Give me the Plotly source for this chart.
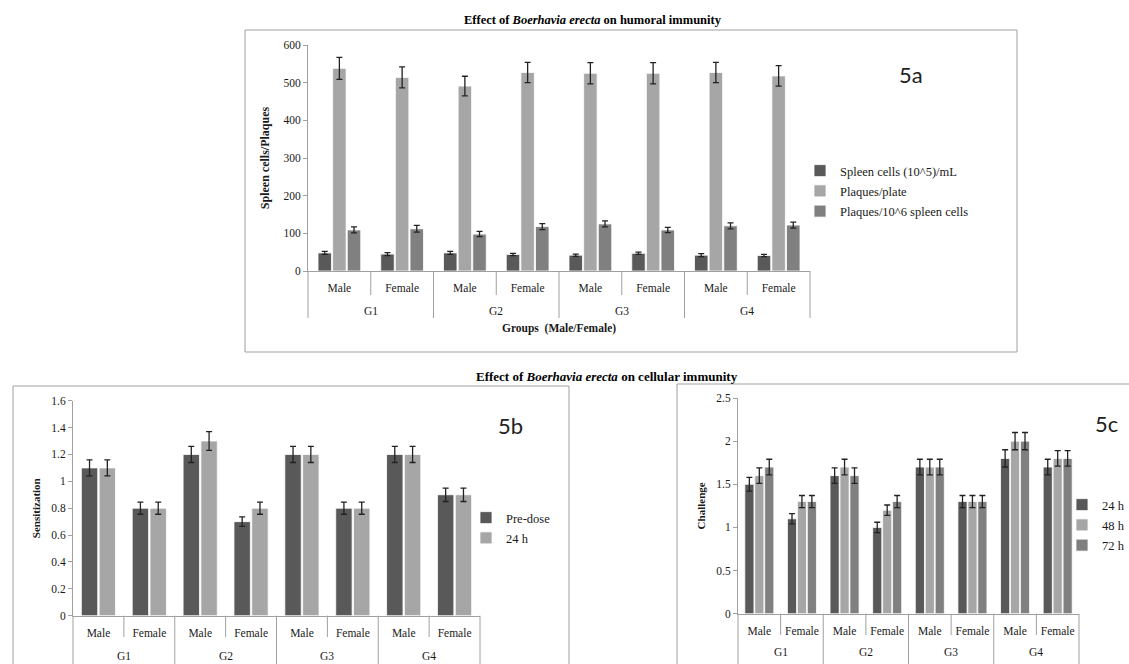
import plotly.graph_objects as go

# ---------------- data ----------------
groups = ["G1", "G1", "G2", "G2", "G3", "G3", "G4", "G4"]
sexes = ["Male", "Female", "Male", "Female", "Male", "Female", "Male", "Female"]

# 5a humoral immunity
spleen_cells = [48, 45, 48, 44, 42, 47, 42, 41]
spleen_cells_err = [4, 4, 4, 3, 3, 3, 4, 3]
plaques_plate = [538, 514, 491, 527, 525, 525, 527, 518]
plaques_plate_err = [29, 28, 26, 27, 28, 28, 27, 27]
plaques_per_cells = [109, 112, 98, 118, 125, 109, 120, 122]
plaques_per_cells_err = [8, 9, 7, 8, 8, 7, 8, 8]

# 5b sensitization
pre_dose = [1.1, 0.8, 1.2, 0.7, 1.2, 0.8, 1.2, 0.9]
pre_dose_err = [0.06, 0.045, 0.06, 0.035, 0.06, 0.045, 0.06, 0.05]
sens_24h = [1.1, 0.8, 1.3, 0.8, 1.2, 0.8, 1.2, 0.9]
sens_24h_err = [0.06, 0.045, 0.07, 0.045, 0.06, 0.045, 0.06, 0.05]

# 5c challenge
chal_24h = [1.5, 1.1, 1.6, 1.0, 1.7, 1.3, 1.8, 1.7]
chal_24h_err = [0.08, 0.06, 0.09, 0.06, 0.09, 0.07, 0.1, 0.09]
chal_48h = [1.6, 1.3, 1.7, 1.2, 1.7, 1.3, 2.0, 1.8]
chal_48h_err = [0.09, 0.07, 0.09, 0.06, 0.09, 0.07, 0.1, 0.09]
chal_72h = [1.7, 1.3, 1.6, 1.3, 1.7, 1.3, 2.0, 1.8]
chal_72h_err = [0.09, 0.07, 0.09, 0.07, 0.09, 0.07, 0.1, 0.09]

# category keys (one per bar slot), displayed as Male/Female
cats = [g + " " + s for g, s in zip(groups, sexes)]

# ---------------- styles ----------------
W, H = 1129, 664
DARK, LIGHT, MED = "#595959", "#a6a6a6", "#808080"
AXC = "#a0a0a0"
SERIF = "Liberation Serif"
SANS = "Lato"
TXT = "#1a1a1a"


def px_x(p):
    return p / W


def px_y(p):
    return (H - p) / H


fig = go.Figure()


def add_bar(name, y, err, color, xa, ya, legend):
    fig.add_trace(go.Bar(
        x=cats, y=y, name=name, legend=legend, legendgroup=name,
        xaxis=xa, yaxis=ya,
        marker=dict(color=color, line=dict(color="white", width=0.8)),
        error_y=dict(type="data", array=err, color="#222222", thickness=1.3, width=3),
    ))


add_bar("Spleen cells (10^5)/mL", spleen_cells, spleen_cells_err, DARK, "x", "y", "legend")
add_bar("Plaques/plate", plaques_plate, plaques_plate_err, LIGHT, "x", "y", "legend")
add_bar("Plaques/10^6 spleen cells", plaques_per_cells, plaques_per_cells_err, MED, "x", "y", "legend")

add_bar("Pre-dose", pre_dose, pre_dose_err, DARK, "x2", "y2", "legend2")
add_bar("24 h", sens_24h, sens_24h_err, LIGHT, "x2", "y2", "legend2")

add_bar("24 h ", chal_24h, chal_24h_err, DARK, "x3", "y3", "legend3")
add_bar("48 h", chal_48h, chal_48h_err, LIGHT, "x3", "y3", "legend3")
add_bar("72 h", chal_72h, chal_72h_err, MED, "x3", "y3", "legend3")

tickfont = dict(family=SERIF, size=11.5, color=TXT)


def xax(domain, anchor):
    return dict(domain=domain, anchor=anchor, type="category",
                categoryorder="array", categoryarray=cats,
                tickmode="array", tickvals=cats, ticktext=sexes,
                showline=True, linecolor=AXC, linewidth=1,
                ticks="outside", ticklen=6, tickcolor="rgba(0,0,0,0)",
                tickfont=tickfont, showgrid=False, zeroline=False)


def yax(domain, anchor, rng, dtick, title, tsize, standoff):
    return dict(domain=domain, anchor=anchor, range=rng, dtick=dtick,
                showline=True, linecolor=AXC, linewidth=1, ticks="outside",
                ticklen=4, tickcolor=AXC, tickfont=tickfont, showgrid=False,
                zeroline=False,
                title=dict(text="<b>" + title + "</b>",
                           font=dict(family=SERIF, size=tsize, color=TXT),
                           standoff=standoff))


fig.update_layout(
    width=W, height=H,
    margin=dict(l=0, r=0, t=0, b=0, autoexpand=False),
    paper_bgcolor="white", plot_bgcolor="white",
    barmode="group", bargap=0.3, bargroupgap=0.08,
    xaxis=dict(xax([px_x(308), px_x(810)], "y"),
               title=dict(text="<b>Groups  (Male/Female)</b>",
                          font=dict(family=SERIF, size=11.5, color=TXT), standoff=31)),
    yaxis=yax([px_y(271), px_y(45)], "x", [0, 600], 100, "Spleen cells/Plaques", 12, 11),
    xaxis2=xax([px_x(73), px_x(480)], "y2"),
    yaxis2=yax([px_y(615.7), px_y(400.7)], "x2", [0, 1.6], 0.2, "Sensitization", 11, 8),
    xaxis3=xax([px_x(738), px_x(1079)], "y3"),
    yaxis3=yax([px_y(613.7), px_y(398)], "x3", [0, 2.5], 0.5, "Challenge", 11, 8),
    legend=dict(x=px_x(800), y=px_y(191), xanchor="left", yanchor="middle",
                font=dict(family=SERIF, size=12.5, color=TXT), bgcolor="rgba(0,0,0,0)",
                tracegroupgap=1),
    legend2=dict(x=px_x(466), y=px_y(528), xanchor="left", yanchor="middle",
                 font=dict(family=SERIF, size=12.5, color=TXT), bgcolor="rgba(0,0,0,0)",
                 tracegroupgap=1),
    legend3=dict(x=px_x(1062), y=px_y(525), xanchor="left", yanchor="middle",
                 font=dict(family=SERIF, size=12.5, color=TXT), bgcolor="rgba(0,0,0,0)",
                 tracegroupgap=1),
    showlegend=True,
)

line_style = dict(color=AXC, width=1)

# panel borders
shapes = [
    dict(type="rect", xref="paper", yref="paper", x0=px_x(245), x1=px_x(1017),
         y0=px_y(352), y1=px_y(30), line=line_style),
    dict(type="rect", xref="paper", yref="paper", x0=px_x(13), x1=px_x(569),
         y0=px_y(700), y1=px_y(386), line=line_style),
    dict(type="rect", xref="paper", yref="paper", x0=px_x(677), x1=px_x(1200),
         y0=px_y(700), y1=px_y(384), line=line_style),
]
annotations = []

# category-axis dividers and group labels
# (axis, axis line px, inner divider end px, outer divider end px, group label px)
panels = [("x", 271, 295, 318, 311), ("x2", 615.7, 637, 700, 655.5),
          ("x3", 613.7, 635, 700, 652)]
for xa, y_ax, y_in, y_out, y_lab in panels:
    # edges of the category axis
    for xd in (0, 1):
        shapes.append(dict(type="line", xref=xa + " domain", yref="paper", x0=xd, x1=xd,
                           y0=px_y(y_ax), y1=px_y(y_out), line=line_style))
    # boundaries between neighbouring categories
    for i in range(1, len(cats)):
        end = y_out if groups[i] != groups[i - 1] else y_in
        shapes.append(dict(type="line", xref=xa, yref="paper", x0=i - 0.5, x1=i - 0.5,
                           y0=px_y(y_ax), y1=px_y(end), line=line_style))
    # outer (group) labels centred under their categories
    for g in dict.fromkeys(groups):
        idx = [i for i, gg in enumerate(groups) if gg == g]
        annotations.append(dict(text=g, xref=xa, yref="paper", x=sum(idx) / len(idx),
                                y=px_y(y_lab), showarrow=False, xanchor="center",
                                yanchor="middle", font=tickfont))
fig.update_layout(shapes=shapes)

texts = [
    dict(text="<b>Effect of <i>Boerhavia erecta</i> on humoral immunity</b>",
         x=px_x(593), y=px_y(20), font=dict(family=SERIF, size=12.5, color="black")),
    dict(text="<b>Effect of <i>Boerhavia erecta</i> on cellular immunity</b>",
         x=px_x(607), y=px_y(377), font=dict(family=SERIF, size=13, color="black")),
    dict(text="5a", x=px_x(911), y=px_y(75), font=dict(family=SANS, size=22, color="#222")),
    dict(text="5b", x=px_x(510), y=px_y(425), font=dict(family=SANS, size=22, color="#222")),
    dict(text="5c", x=px_x(1106), y=px_y(424), font=dict(family=SANS, size=22, color="#222")),
]
for a in texts:
    a.update(xref="paper", yref="paper", showarrow=False, xanchor="center", yanchor="middle")
annotations.extend(texts)
fig.update_layout(annotations=annotations)

fig.write_html("out.html", config={"displayModeBar": False},
               post_script="document.body.style.margin='0px';")
